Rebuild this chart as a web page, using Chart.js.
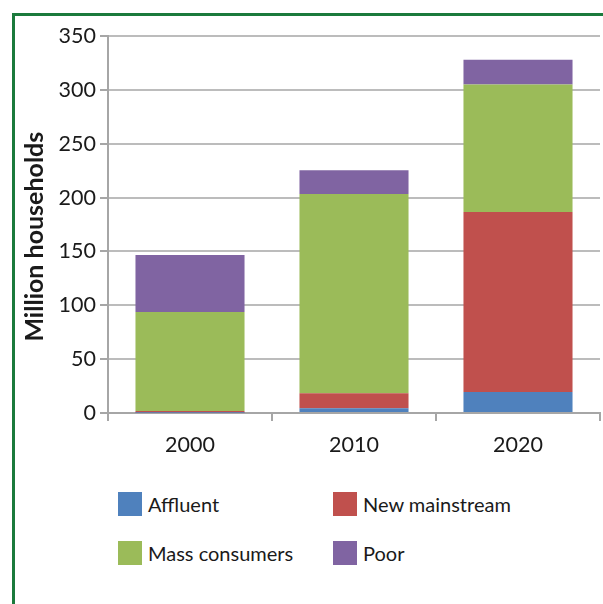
<!DOCTYPE html>
<html>
<head>
<meta charset="utf-8">
<script src="https://cdn.jsdelivr.net/npm/chart.js@4.4.0/dist/chart.umd.min.js"></script>
<style>
  html, body { margin: 0; padding: 0; background: #fff; overflow: hidden; }
  body { width: 603px; height: 604px; position: relative; font-family: Lato, "Noto Sans", sans-serif; }
  #frame { position: absolute; left: 12px; top: 13px; width: 640px; height: 640px;
           border-left: 3px solid #1b7a3c; border-top: 3px solid #1b7a3c; box-sizing: border-box; }
  #c { position: absolute; left: 0; top: 0; }
  .leg { position: absolute; display: flex; align-items: center; font-size: 20px; color: #1a1a1a; white-space: nowrap; }
  .leg .sw { width: 24px; height: 24px; margin-right: 6px; flex: none; }
</style>
</head>
<body>
<div id="frame"></div>
<canvas id="c" width="603" height="470"></canvas>
<div id="legend"></div>
<script>
const categories = ["2000", "2010", "2020"];
const affluent = [0.3, 4.4, 19.5];
const newMainstream = [1.5, 14, 167];
const massConsumers = [92, 185, 118.5];
const poor = [53, 22, 23];
const seriesNames = ["Affluent", "New mainstream", "Mass consumers", "Poor"];
const seriesColors = ["#4f81bd", "#c0504d", "#9bbb59", "#8064a2"];
const yTicks = [0, 50, 100, 150, 200, 250, 300, 350];

const seriesData = [affluent, newMainstream, massConsumers, poor];
const FONT = "Lato, 'Noto Sans', sans-serif";

new Chart(document.getElementById('c'), {
  type: 'bar',
  data: {
    labels: categories,
    datasets: seriesNames.map((n, i) => ({
      label: n,
      data: seriesData[i],
      backgroundColor: seriesColors[i],
      borderWidth: 0,
      categoryPercentage: 1,
      barPercentage: 0.665
    }))
  },
  options: {
    responsive: false,
    animation: false,
    devicePixelRatio: 1,
    layout: { padding: { top: 36, left: 14, right: 3, bottom: 0 } },
    plugins: { legend: { display: false }, tooltip: { enabled: false } },
    scales: {
      x: {
        stacked: true,
        grid: { drawOnChartArea: false, drawTicks: true, tickLength: 8, color: '#a6a6a6', lineWidth: 2, offset: true },
        border: { color: '#a6a6a6', width: 2 },
        ticks: { font: { family: FONT, size: 21.5 }, color: '#1a1a1a', padding: 11 },
        afterFit: s => { s.height = 57; }
      },
      y: {
        stacked: true,
        min: 0, max: 350,
        afterBuildTicks: s => { s.ticks = yTicks.map(v => ({ value: v })); },
        grid: { color: '#bcbcbc', lineWidth: 2, tickLength: 8, tickColor: '#a6a6a6' },
        border: { color: '#a6a6a6', width: 2 },
        ticks: { font: { family: FONT, size: 21.5 }, color: '#1a1a1a', padding: 4 },
        title: { display: true, text: 'Million households\u00A0\u00A0\u00A0\u00A0', font: { family: FONT, size: 25, weight: 'bold' }, color: '#1a1a1a', padding: { top: 6, bottom: 0 } },
        afterFit: s => { s.width = 94; }
      }
    }
  }
});

const legendPos = [[118, 492], [333, 492], [118, 541], [333, 541]];
const legend = document.getElementById('legend');
seriesNames.forEach((n, i) => {
  const d = document.createElement('div');
  d.className = 'leg';
  d.style.left = legendPos[i][0] + 'px';
  d.style.top = legendPos[i][1] + 'px';
  d.innerHTML = '<span class="sw" style="background:' + seriesColors[i] + '"></span><span>' + n + '</span>';
  legend.appendChild(d);
});
</script>
</body>
</html>
